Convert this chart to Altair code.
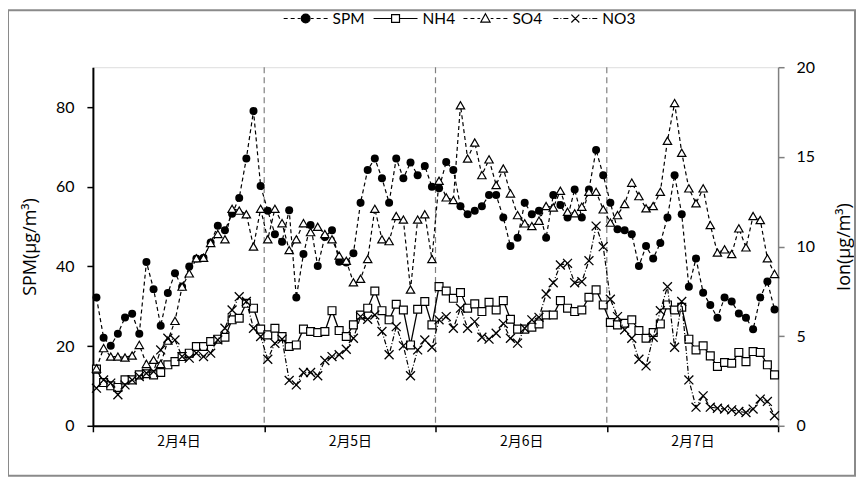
import altair as alt
import pandas as pd

# ---------------- data ----------------
day_labels = ["2月4日", "2月5日", "2月6日", "2月7日"]
day_boundaries = [24, 48, 72]
series_names = ["SPM", "NH4", "SO4", "NO3"]

spm = [32.2, 22.1, 20.1, 23.1, 27.2, 28.1, 23.1, 41.1, 34.3, 25.1, 33.3, 38.3,
       34.9, 40.0, 42.0, 42.2, 46.0, 50.2, 49.1, 53.2, 57.2, 67.1, 79.0, 60.2,
       54.0, 48.1, 46.2, 54.1, 32.2, 43.1, 50.4, 40.1, 47.4, 49.1, 41.2, 41.0,
       43.3, 56.0, 64.2, 67.1, 62.1, 56.0, 67.1, 62.1, 66.1, 62.9, 65.2, 60.0,
       59.6, 66.2, 64.2, 55.1, 53.1, 54.0, 55.1, 57.9, 57.9, 52.3, 45.1, 47.2,
       56.0, 53.1, 54.0, 47.2, 57.9, 55.4, 52.3, 59.3, 52.3, 59.3, 69.2, 62.9,
       56.0, 49.3, 49.1, 48.1, 40.1, 45.1, 42.0, 45.9, 52.3, 62.9, 53.1, 34.9,
       42.0, 33.4, 30.3, 27.1, 32.2, 31.2, 28.2, 27.1, 24.2, 32.2, 36.2, 29.2]

nh4 = [3.16, 2.41, 2.23, 2.14, 2.56, 2.56, 2.84, 2.90, 2.84, 2.97, 3.40, 3.58,
       3.86, 4.05, 4.42, 4.42, 4.70, 4.83, 4.94, 5.91, 6.00, 6.83, 6.56, 5.39,
       5.07, 5.44, 4.98, 4.42, 4.51, 5.39, 5.26, 5.20, 5.26, 6.42, 5.31, 4.98,
       5.63, 6.18, 6.56, 7.52, 6.42, 5.91, 6.78, 6.46, 4.51, 6.50, 6.93, 5.63,
       7.76, 7.52, 7.11, 7.43, 6.56, 6.80, 6.37, 6.89, 6.46, 6.98, 5.94, 5.39,
       5.39, 5.50, 5.68, 6.18, 6.18, 6.98, 6.56, 6.37, 6.46, 7.17, 7.58, 6.74,
       5.76, 5.63, 5.72, 5.91, 5.31, 4.88, 5.20, 5.68, 6.74, 6.46, 6.61, 4.83,
       4.23, 4.46, 3.90, 3.31, 3.53, 3.49, 4.09, 3.58, 4.14, 4.09, 3.40, 2.84]

so4 = [3.20, 4.33, 3.86, 3.86, 3.81, 3.92, 4.51, 3.45, 3.68, 3.45, 4.75, 5.85,
       7.76, 8.50, 9.34, 9.37, 10.2, 10.7, 10.4, 12.1, 12.0, 11.8, 10.0, 12.1,
       10.4, 12.1, 11.3, 9.80, 10.4, 11.3, 10.8, 11.1, 10.7, 10.4, 9.50, 9.20,
       8.00, 8.20, 9.30, 12.1, 10.4, 10.3, 11.7, 11.5, 7.60, 11.5, 11.8, 9.30,
       13.67, 12.74, 12.59, 17.88, 14.91, 15.80, 13.98, 14.86, 13.43, 14.35, 12.96, 11.75,
       11.29, 11.14, 11.44, 12.26, 12.18, 13.11, 11.94, 11.85, 12.22, 13.05, 13.05, 12.07,
       11.33, 11.75, 12.37, 13.56, 12.81, 12.13, 12.26, 13.05, 15.90, 18.00, 15.23, 13.24,
       12.41, 13.24, 11.20, 9.66, 9.84, 9.58, 11.01, 9.95, 11.70, 11.48, 9.34, 8.47]

no3 = [2.10, 2.56, 2.38, 1.73, 2.28, 2.56, 2.75, 2.93, 3.03, 4.23, 4.88, 4.79,
       3.86, 3.77, 4.05, 3.86, 4.05, 4.79, 5.44, 6.46, 7.20, 6.93, 5.44, 4.98,
       3.71, 4.60, 4.83, 2.53, 2.28, 2.97, 2.97, 2.79, 3.64, 3.86, 3.96, 4.27,
       4.88, 6.09, 5.94, 6.18, 5.26, 3.96, 5.53, 4.46, 2.79, 4.23, 4.79, 4.38,
       5.91, 6.09, 5.44, 6.56, 5.44, 5.81, 4.94, 4.83, 5.16, 5.70, 4.88, 4.61,
       5.44, 5.91, 6.05, 7.35, 7.98, 8.97, 9.06, 7.98, 8.04, 9.21, 11.14, 9.99,
       7.06, 6.09, 5.35, 4.88, 3.71, 3.34, 4.94, 6.42, 7.76, 4.38, 6.93, 2.56,
       1.04, 1.67, 1.04, 0.98, 0.93, 0.89, 0.80, 0.74, 0.93, 1.49, 1.36, 0.56]

hour = [i + 0.5 for i in range(len(spm))]

df = pd.DataFrame({"hour": hour, "SPM": spm, "NH4": nh4, "SO4": so4, "NO3": no3})
bounds_df = pd.DataFrame({"b": day_boundaries})
legend_df = pd.DataFrame({"series": series_names})

# ---------------- styling ----------------
W, H = 686, 359
FONT = "Lato"
TFONT = "Open Sans"
JP = "Noto Sans CJK JP"

label_expr = " : ".join(
    f"datum.value == {24 * i} ? '{lab}'" for i, lab in enumerate(day_labels)
) + " : ''"

x_axis = alt.Axis(values=[0, 24, 48, 72, 96], labelExpr=label_expr, labelOffset=85.75,
                  title=None, grid=False, domainColor="black", domainWidth=2,
                  tickColor="black", tickWidth=1.5, tickSize=6, labelFont=JP,
                  labelFontSize=14, labelColor="black", labelPadding=3,
                  labelFlush=False, labelOverlap=False, labelBound=False)
x_scale = alt.Scale(domain=[0, 96], nice=False, zero=False)


def xenc(field="hour"):
    return alt.X(f"{field}:Q", scale=x_scale, axis=x_axis)


left_axis = alt.Axis(values=[0, 20, 40, 60, 80], title="SPM(μg/m³)", orient="left",
                     grid=False, domainColor="black", domainWidth=2, tickColor="black",
                     tickWidth=1.5, tickSize=6, labelPadding=13, labelFont=FONT,
                     labelFontSize=16, labelColor="black", titleFont=TFONT,
                     titleFontSize=18, titleFontWeight="normal", titleColor="black",
                     titleX=-62, titleY=H / 2, titleAngle=270, titleAlign="center",
                     titleBaseline="middle")
right_axis = alt.Axis(values=[0, 5, 10, 15, 20], title="Ion(μg/m³)", orient="right",
                      grid=False, domainColor="#808080", domainWidth=1.5,
                      tickColor="#808080", tickWidth=1.5, tickSize=6, labelPadding=12,
                      labelFont=FONT, labelFontSize=16, labelColor="black",
                      titleFont=TFONT, titleFontSize=18, titleFontWeight="normal",
                      titleColor="black", titleAngle=270, titleX=66, titleY=H / 2,
                      titleAlign="center", titleBaseline="middle")
left_scale = alt.Scale(domain=[0, 90], nice=False, zero=True)
right_scale = alt.Scale(domain=[0, 20], nice=False, zero=True)

base = alt.Chart(df)

# day boundary dashed lines
rules = alt.Chart(bounds_df).mark_rule(color="#808080", strokeDash=[6, 4],
                                        strokeWidth=1.2).encode(x=xenc("b"))

# outer chart-area frame (decoration)
frame = alt.Chart(pd.DataFrame({"a": [0]})).mark_rect(
    fill="white", fillOpacity=0, stroke="#8a8a8a", strokeWidth=2
).encode(x=alt.value(-85), x2=alt.value(763), y=alt.value(-57), y2=alt.value(409))

# SPM (left axis)
spm_y = alt.Y("SPM:Q", scale=left_scale, axis=left_axis)
spm_line = base.mark_line(color="black", strokeWidth=1.2, strokeDash=[4, 3]).encode(
    x=xenc(), y=spm_y)
spm_pts = base.mark_point(shape="circle", filled=True, color="black", size=64,
                          opacity=1).encode(x=xenc(), y=spm_y)
spm_layer = alt.layer(spm_line, spm_pts)

# ions (right axis)
X_PATH = "M-1,-1L1,1M-1,1L1,-1"


def ion_y(field):
    return alt.Y(f"{field}:Q", scale=right_scale, axis=right_axis)


nh4_line = base.mark_line(color="black", strokeWidth=1.3).encode(x=xenc(), y=ion_y("NH4"))
nh4_pts = base.mark_point(shape="square", size=62, fill="white", stroke="black",
                          strokeWidth=1.2, opacity=1, fillOpacity=1).encode(
    x=xenc(), y=ion_y("NH4"))
so4_line = base.mark_line(color="black", strokeWidth=1.2, strokeDash=[4, 3]).encode(
    x=xenc(), y=ion_y("SO4"))
so4_pts = base.mark_point(shape="triangle-up", size=70, fill="white", stroke="black",
                          strokeWidth=1.2, opacity=1, fillOpacity=1).encode(
    x=xenc(), y=ion_y("SO4"))
no3_line = base.mark_line(color="black", strokeWidth=1.2, strokeDash=[5, 2, 1, 2]).encode(
    x=xenc(), y=ion_y("NO3"))
no3_pts = base.mark_point(shape=X_PATH, size=80, stroke="black", strokeWidth=1.3,
                          opacity=1, fill="transparent").encode(x=xenc(), y=ion_y("NO3"))
ion_layer = alt.layer(nh4_line, nh4_pts, so4_line, so4_pts, no3_line, no3_pts)


# legend with custom line+marker symbols
def dashes(pattern, start=-1.0, end=-0.24):
    segs, pos, i = [], start, 0
    while pos < end:
        seg = pattern[i % len(pattern)]
        if i % 2 == 0:
            segs.append(f"M{pos:.3f},0H{min(pos + seg, end):.3f}")
        pos += seg
        i += 1
    left = "".join(segs)
    right = left.replace("M-", "M").replace("H-", "H")
    return left + right


u = 1 / 22.0
dash_p = [4 * u, 3 * u]
dashdot_p = [5 * u, 2 * u, 1 * u, 2 * u]
r = 0.2
paths = [
    dashes(dash_p) + f"M-{r},0A{r},{r} 0 1,0 {r},0A{r},{r} 0 1,0 -{r},0Z",
    "M-1,0H-0.19M0.19,0H1" + "M-0.18,-0.18H0.18V0.18H-0.18Z",
    dashes(dash_p) + "M0,-0.22L0.21,0.16H-0.21Z",
    dashes(dashdot_p) + "M-0.18,-0.18L0.18,0.18M-0.18,0.18L0.18,-0.18",
]
leg = alt.Legend(title=None, orient="none", legendX=190, legendY=-72,
                 direction="horizontal", columns=4, symbolSize=1936,
                 symbolStrokeColor="black", symbolStrokeWidth=1.2, symbolOpacity=1,
                 labelFont=FONT, labelFontSize=15.5, labelColor="black", labelOffset=4,
                 columnPadding=4, padding=0, gridAlign="all")
legend_layer = alt.Chart(legend_df).mark_point(opacity=0, size=1936, strokeWidth=1.2).encode(
    shape=alt.Shape("series:N", scale=alt.Scale(domain=series_names, range=paths), legend=leg),
    fill=alt.Fill("series:N", scale=alt.Scale(domain=series_names,
                                              range=["black", "white", "white", "white"]),
                  legend=leg),
    stroke=alt.Stroke("series:N", scale=alt.Scale(domain=series_names,
                                                  range=["black", "black", "black", "black"]),
                      legend=leg),
)

chart = alt.layer(frame, rules, spm_layer, ion_layer, legend_layer).resolve_scale(
    y="independent"
).properties(
    width=W, height=H,
    autosize=alt.AutoSizeParams(type="none"),
    padding={"left": 85, "top": 59, "right": 78, "bottom": 52},
).configure_view(stroke="black", strokeWidth=2).configure(background="white")

chart.save("out.html", embed_options={"renderer": "svg", "actions": False})
